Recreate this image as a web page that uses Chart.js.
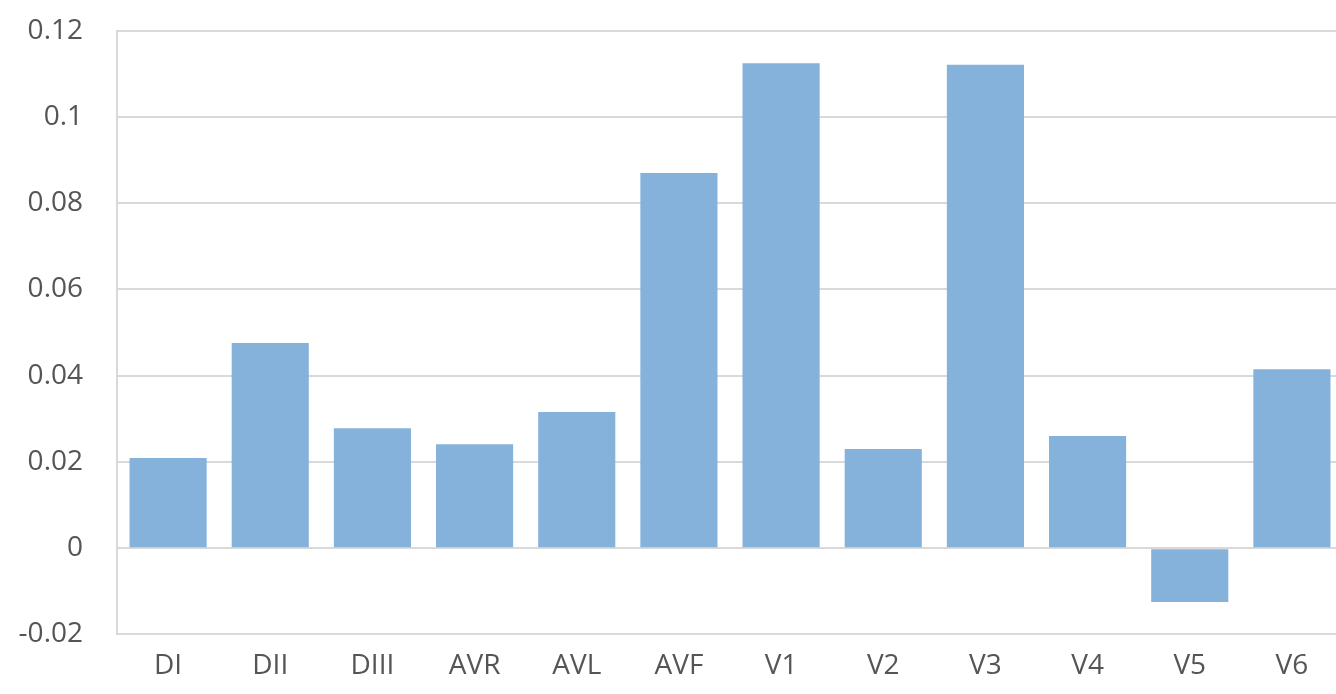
<!DOCTYPE html>
<html>
<head>
<meta charset="UTF-8">
<title>Leads</title>
<script src="https://cdn.jsdelivr.net/npm/chart.js"></script>
<style>
  html, body { margin: 0; padding: 0; background: #fff; overflow: hidden; }
  .chart-box { position: relative; width: 1343px; height: 710px; margin-top: -20px; }
</style>
</head>
<body>
<div class="chart-box">
  <canvas id="leadChart"></canvas>
</div>
<script>
// leads and their values
const leads = ['DI', 'DII', 'DIII', 'AVR', 'AVL', 'AVF', 'V1', 'V2', 'V3', 'V4', 'V5', 'V6'];
const leadValues = [0.0209, 0.0476, 0.0278, 0.0241, 0.0316, 0.087, 0.1125, 0.023, 0.1121, 0.026, -0.0125, 0.0415];
const yTicks = [-0.02, 0, 0.02, 0.04, 0.06, 0.08, 0.1, 0.12];

const tickFont = { family: 'Open Sans', size: 28 };
const grey = '#555555';

new Chart(document.getElementById('leadChart'), {
  type: 'bar',
  data: {
    labels: leads,
    datasets: [{
      data: leadValues,
      backgroundColor: '#85b2da',
      borderWidth: 0,
      categoryPercentage: 1,
      barPercentage: 0.755
    }]
  },
  options: {
    responsive: true,
    maintainAspectRatio: false,
    animation: false,
    layout: { padding: 0 },
    plugins: { legend: { display: false }, tooltip: { enabled: false } },
    scales: {
      x: {
        grid: { display: false },
        border: { display: false },
        ticks: { color: grey, font: tickFont, padding: 7, maxRotation: 0 }
      },
      y: {
        min: -0.02,
        max: 0.12,
        afterFit: s => { s.width = 117; },
        afterBuildTicks: s => { s.ticks = yTicks.map(v => ({ value: v })); },
        grid: { color: '#d9d9d9', lineWidth: 2, drawTicks: false },
        border: { color: '#d9d9d9', width: 2 },
        ticks: {
          color: grey,
          font: tickFont,
          padding: 34,
          callback: v => String(Math.round(v * 100) / 100)
        }
      }
    }
  }
});
</script>
</body>
</html>
